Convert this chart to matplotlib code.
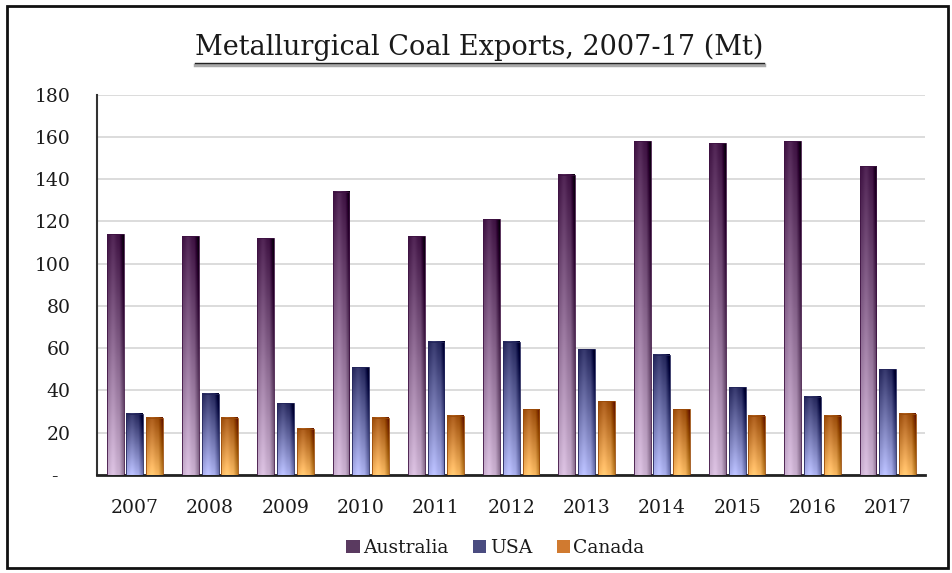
import numpy as np
import matplotlib
matplotlib.use('Agg')
import matplotlib.pyplot as plt
from matplotlib.patches import Rectangle, Patch
from matplotlib.colors import LinearSegmentedColormap
from matplotlib.lines import Line2D

# Metallurgical coal exports by country (Mt)
years = ['2007', '2008', '2009', '2010', '2011', '2012', '2013', '2014', '2015', '2016', '2017']
australia = [114, 113, 112, 134, 113, 121, 142, 158, 157, 158, 146]
usa = [29, 38.5, 34, 51, 63, 63, 59.5, 57, 41.5, 37, 50]
canada = [27, 27, 22, 27, 28, 31, 35, 31, 28, 28, 29]

series = [('Australia', australia), ('USA', usa), ('Canada', canada)]
# (top colour, bottom colour) for each series' gradient
grads = {
    'Australia': ('#3e1242', '#c9afcf'),
    'USA': ('#23255a', '#aab0ee'),
    'Canada': ('#9a4a08', '#f8b860'),
}
legend_cols = {'Australia': '#5a3a60', 'USA': '#4a4c80', 'Canada': '#d07a30'}

plt.rcParams['font.family'] = ['DejaVu Serif']

fig = plt.figure(figsize=(9.53, 5.73), dpi=100)
ax = fig.add_axes([0.102, 0.171, 0.869, 0.664])

x = np.arange(len(years))
bw = 0.225
step = 0.262


def grad_bar(ax, x0, h, top, bottom):
    cmap = LinearSegmentedColormap.from_list('g', [bottom, top])
    ny, nx = 64, 16
    v = np.linspace(0, 1, ny)[:, None] * np.ones((1, nx))
    # darker rim on the right edge, soft light band left of centre
    hx = np.linspace(0, 1, nx)[None, :]
    shade = 0.08 * np.exp(-((hx - 0.35) / 0.2) ** 2) - 0.22 * np.clip((hx - 0.75) / 0.25, 0, 1)
    img = cmap(np.clip(v, 0, 1))
    img[..., :3] = np.clip(img[..., :3] + shade[..., None], 0, 1)
    ax.imshow(img, extent=[x0, x0 + bw, 0, h], origin='lower', aspect='auto',
              interpolation='bilinear', zorder=3)
    ax.add_patch(Rectangle((x0, 0), bw, h, fill=False, edgecolor=top, linewidth=0.6, zorder=4))


for i, (name, vals) in enumerate(series):
    top, bottom = grads[name]
    for xi, val in zip(x, vals):
        grad_bar(ax, xi + (i - 1) * step - bw / 2, val, top, bottom)

ax.set_xlim(-0.5, len(years) - 0.5)
ax.set_ylim(0, 180)
ax.set_yticks(np.arange(0, 181, 20))
ax.set_yticklabels(['-  '] + [str(v) for v in range(20, 181, 20)])
ax.set_xticks(x)
ax.set_xticklabels(years)
ax.tick_params(axis='both', length=0, labelsize=13.5, colors='#1a1a1a')
ax.tick_params(axis='x', pad=17)
ax.tick_params(axis='y', pad=19)
ax.grid(axis='y', color='#d9d9d9', linewidth=1.3, zorder=0)
ax.set_axisbelow(True)
for s in ['top', 'right']:
    ax.spines[s].set_visible(False)
ax.spines['left'].set_color('#333333')
ax.spines['left'].set_linewidth(1.5)
ax.spines['bottom'].set_color('#222222')
ax.spines['bottom'].set_linewidth(2)

# title with underline
title = fig.text(0.503, 0.904, 'Metallurgical Coal Exports, 2007-17 (Mt)', ha='center',
                 va='baseline', fontsize=19.5, color='#1a1a1a')
fig.canvas.draw()
bb = title.get_window_extent().transformed(fig.transFigure.inverted())
fig.add_artist(Line2D([bb.x0, bb.x1], [0.887, 0.887], color='#aaaaaa', linewidth=2.5))
fig.add_artist(Line2D([bb.x0, bb.x1], [0.89, 0.89], color='#222222', linewidth=1.0))

handles = [Patch(facecolor=legend_cols[n], edgecolor='none') for n, _ in series]
fig.legend(handles, [n for n, _ in series], loc='center', bbox_to_anchor=(0.52, 0.044),
           ncol=3, frameon=False, fontsize=13.5, handlelength=0.7, handleheight=0.7,
           handletextpad=0.2, columnspacing=1.3, labelcolor='#1a1a1a')

# outer frame
fig.add_artist(Rectangle((0.007, 0.008), 0.988, 0.982, transform=fig.transFigure,
                         fill=False, edgecolor='#111111', linewidth=2))

fig.savefig('out.png', dpi=100)
